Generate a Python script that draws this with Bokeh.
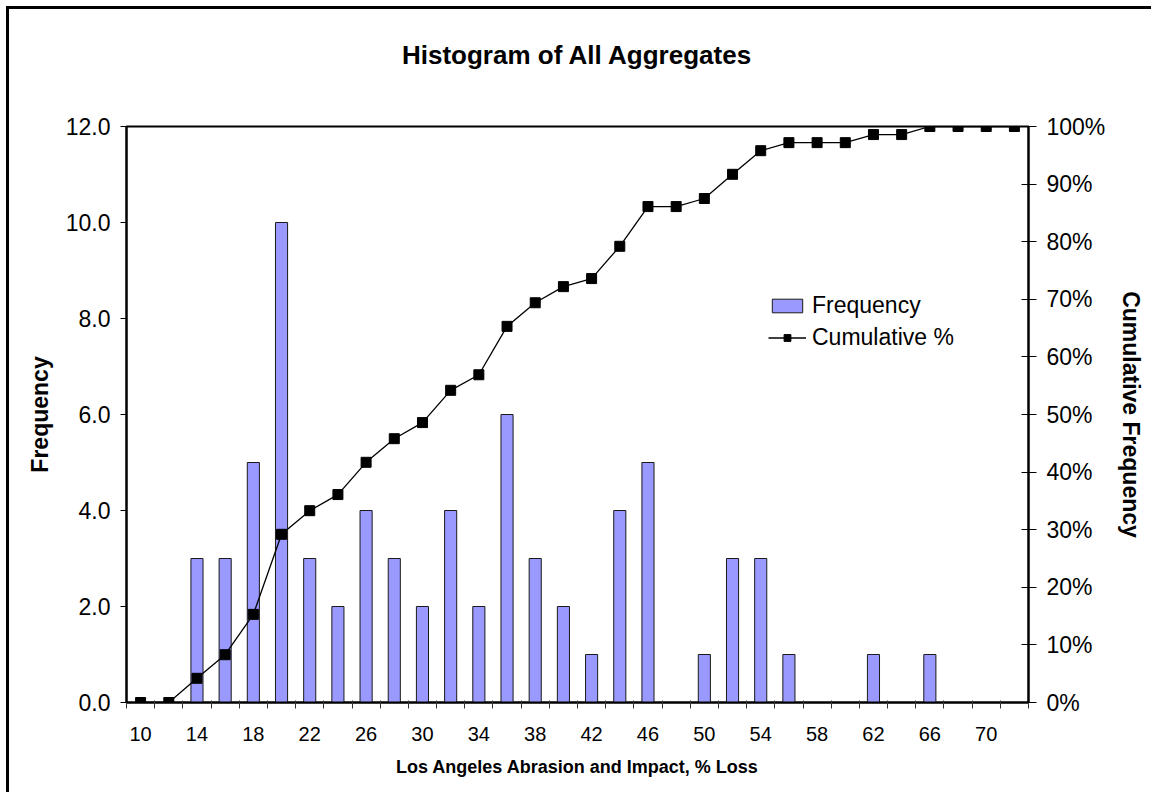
from bokeh.plotting import figure
from bokeh.models import (Range1d, LinearAxis, FixedTicker, NumeralTickFormatter,
                          PrintfTickFormatter, Legend, LegendItem)
from bokeh.embed import file_html
from bokeh.resources import INLINE

# ---- data ----
bins = [10, 12, 14, 16, 18, 20, 22, 24, 26, 28, 30, 32, 34, 36, 38, 40,
        42, 44, 46, 48, 50, 52, 54, 56, 58, 60, 62, 64, 66, 68, 70, 72]
frequency = [0, 0, 3, 3, 5, 10, 3, 2, 4, 3, 2, 4, 2, 6, 3, 2,
             1, 4, 5, 0, 1, 3, 3, 1, 0, 0, 1, 0, 1, 0, 0, 0]
cumulative_pct = [0, 0, 4.2, 8.3, 15.3, 29.2, 33.3, 36.1, 41.7, 45.8, 48.6, 54.2, 56.9, 65.3, 69.4, 72.2,
                  73.6, 79.2, 86.1, 86.1, 87.5, 91.7, 95.8, 97.2, 97.2, 97.2, 98.6, 98.6, 100, 100, 100, 100]
x_tick_labels = [10, 14, 18, 22, 26, 30, 34, 38, 42, 46, 50, 54, 58, 62, 66, 70]
freq_ticks = [0, 2, 4, 6, 8, 10, 12]
pct_ticks = [0, 10, 20, 30, 40, 50, 60, 70, 80, 90, 100]

FONT = "Liberation Sans"
step = bins[1] - bins[0]
boundaries = [b - step / 2 for b in bins] + [bins[-1] + step / 2]

p = figure(width=1145, height=786, output_backend="svg", toolbar_location=None,
           x_range=Range1d(boundaries[0], boundaries[-1]), y_range=Range1d(0, 12),
           min_border_left=117, min_border_top=117, min_border_right=126, min_border_bottom=93)
p.styles = {"border-top": "3px solid black", "border-left": "3px solid black",
            "margin-top": "6px", "margin-left": "6px"}
p.extra_y_ranges = {"pct": Range1d(0, 100)}
p.xgrid.visible = False
p.ygrid.visible = False
p.outline_line_color = "black"
p.outline_line_width = 2
p.background_fill_color = "white"
p.border_fill_color = "white"

bars = p.vbar(x=bins, top=frequency, width=0.43 * step, fill_color="#9999FF",
              line_color="#1a1a1a", line_width=1)
line = p.line(bins, cumulative_pct, y_range_name="pct", line_color="black", line_width=1.3)
pts = p.scatter(bins, cumulative_pct, y_range_name="pct", marker="square", size=10,
                fill_color="black", line_color="black")

# x axis
xa = p.xaxis[0]
xa.ticker = FixedTicker(ticks=x_tick_labels, minor_ticks=boundaries)
xa.major_tick_in = 0
xa.major_tick_out = 0
xa.minor_tick_in = 2
xa.minor_tick_out = 6
xa.minor_tick_line_color = "#333333"
xa.axis_line_width = 2
xa.axis_line_color = "black"
xa.major_label_standoff = 18
xa.major_label_text_font = FONT
xa.major_label_text_font_size = "20px"
xa.major_label_text_color = "black"
xa.axis_label = "Los Angeles Abrasion and Impact, % Loss"
xa.axis_label_text_font = FONT
xa.axis_label_text_font_style = "bold"
xa.axis_label_text_font_size = "18px"
xa.axis_label_text_color = "black"
xa.axis_label_standoff = 13

# left axis
ya = p.yaxis[0]
ya.ticker = FixedTicker(ticks=freq_ticks, minor_ticks=[])
ya.formatter = NumeralTickFormatter(format="0.0")
ya.major_tick_in = 0
ya.major_tick_out = 6
ya.axis_line_width = 2
ya.axis_line_color = "black"
ya.major_label_standoff = 10
ya.major_label_text_font = FONT
ya.major_label_text_font_size = "23px"
ya.major_label_text_color = "black"
ya.axis_label = "Frequency"
ya.axis_label_text_font = FONT
ya.axis_label_text_font_style = "bold"
ya.axis_label_text_font_size = "23px"
ya.axis_label_text_color = "black"
ya.axis_label_standoff = 10

# right axis
ra = LinearAxis(y_range_name="pct", ticker=FixedTicker(ticks=pct_ticks, minor_ticks=[]),
                formatter=PrintfTickFormatter(format="%d%%"))
ra.major_tick_in = 7
ra.major_tick_out = 8
ra.axis_line_width = 2
ra.axis_line_color = "black"
ra.major_label_standoff = 10
ra.major_label_text_font = FONT
ra.major_label_text_font_size = "23px"
ra.major_label_text_color = "black"
ra.axis_label = "Cumulative Frequency"
ra.axis_label_text_font = FONT
ra.axis_label_text_font_style = "bold"
ra.axis_label_text_font_size = "23px"
ra.axis_label_text_color = "black"
ra.axis_label_standoff = 10
p.add_layout(ra, "right")

# chart title drawn as the label of an empty axis above the frame
ta = LinearAxis(ticker=FixedTicker(ticks=[], minor_ticks=[]))
ta.axis_line_color = None
ta.major_tick_line_color = None
ta.minor_tick_line_color = None
ta.major_tick_out = 0
ta.major_tick_in = 0
ta.major_label_standoff = 0
ta.major_label_text_font_size = "0px"
ta.axis_label = "Histogram of All Aggregates"
ta.axis_label_text_font = FONT
ta.axis_label_text_font_style = "bold"
ta.axis_label_text_font_size = "26px"
ta.axis_label_text_color = "black"
ta.axis_label_standoff = 57
p.add_layout(ta, "above")

legend = Legend(items=[LegendItem(label="Frequency", renderers=[bars]),
                       LegendItem(label="Cumulative %", renderers=[line, pts])],
                location=(642, 351), border_line_color=None, background_fill_alpha=0,
                padding=0, margin=0, spacing=5, glyph_width=38, glyph_height=17,
                label_standoff=6, label_text_font=FONT, label_text_font_size="23px",
                label_text_color="black")
p.add_layout(legend)

open("out.html", "w").write(file_html(p, INLINE))
